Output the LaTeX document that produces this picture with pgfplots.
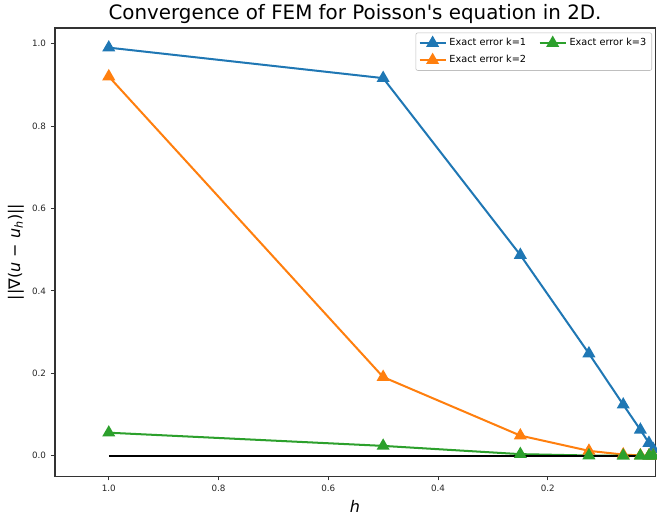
\documentclass[border=0pt]{standalone}
\usepackage{pgfplots}
\pgfplotsset{compat=1.18}
\usepackage{fontspec}
\setmainfont{DejaVu Sans}
\definecolor{c0}{HTML}{1F77B4}
\definecolor{c1}{HTML}{FF7F0E}
\definecolor{c2}{HTML}{2CA02C}
\begin{document}
\begin{tikzpicture}
\begin{axis}[
  scale only axis,
  width=432pt, height=322.6pt,
  x dir=reverse,
  xmin=0.0045, xmax=1.098,
  ymin=-0.0494, ymax=1.0375,
  xtick={0.2,0.4,0.6,0.8,1.0},
  ytick={0,0.2,0.4,0.6,0.8,1.0},
  /pgf/number format/assume math mode=true,
  /pgf/number format/fixed, /pgf/number format/fixed zerofill, /pgf/number format/precision=1,
  tick label style={font=\fontsize{6.3}{7}\selectfont, color=black!85},
  tick align=outside, tick pos=left,
  major tick length=3pt,
  axis line style={black!80, line width=0.8pt},
  every tick/.style={black!80, line width=0.6pt},
  title={Convergence of FEM for Poisson\textquotesingle s equation in 2D.},
  title style={font=\fontsize{14.3}{16}\selectfont, yshift=-6.5pt},
  xlabel={\itshape h}, ylabel={||∇(\textit{u} − \textit{u}\textsubscript{\itshape h})||},
  label style={font=\fontsize{11.5}{13}\selectfont},
  xlabel style={yshift=1pt},
  ylabel style={yshift=-1pt},
  legend columns=2,
  legend image code/.code={
    \draw[mark repeat=2,mark phase=2] plot coordinates {(0cm,0cm) (0.33cm,0cm) (0.66cm,0cm)};},
  legend style={at={(0.995,0.99)}, anchor=north east, font=\fontsize{7}{8.5}\selectfont,
    draw=black!25, rounded corners=1.5pt, inner sep=2pt, row sep=1.5pt,
    /tikz/every even column/.append style={column sep=7pt}},
  legend cell align=left,
  clip=true,
]
\addplot[forget plot, c0, line width=1.45pt, mark=triangle*, mark size=4pt] coordinates {
(1,0.990) (0.5,0.916) (0.25,0.487) (0.125,0.248) (0.0625,0.124) (0.03125,0.063) (0.015625,0.031) (0.0078125,0.016)};
\addplot[forget plot, c1, line width=1.45pt, mark=triangle*, mark size=4pt] coordinates {
(1,0.920) (0.5,0.191) (0.25,0.049) (0.125,0.012) (0.0625,0.003) (0.03125,0.0008) (0.015625,0.0002) (0.0078125,0.00005)};
\addplot[forget plot, c2, line width=1.45pt, mark=triangle*, mark size=4pt] coordinates {
(1,0.056) (0.5,0.024) (0.25,0.004) (0.125,0.0007) (0.0625,0.0001) (0.03125,0.00002) (0.015625,0.000003) (0.0078125,0.0000005)};
\addplot[forget plot, black, line width=1.45pt] coordinates {(1,0) (0,0)};
\addlegendimage{c0, line width=1.45pt, mark=triangle*, mark size=4pt}
\addlegendentry{Exact error k=1}
\addlegendimage{c2, line width=1.45pt, mark=triangle*, mark size=4pt}
\addlegendentry{Exact error k=3}
\addlegendimage{c1, line width=1.45pt, mark=triangle*, mark size=4pt}
\addlegendentry{Exact error k=2}
\end{axis}
\path (current axis.south west) ++(-39.6pt,-28.8pt) coordinate (a);
\path (current axis.north east) ++(1.4pt,20.2pt) coordinate (b);
\pgfresetboundingbox
\path[use as bounding box] (a) rectangle (b);
\end{tikzpicture}
\end{document}
